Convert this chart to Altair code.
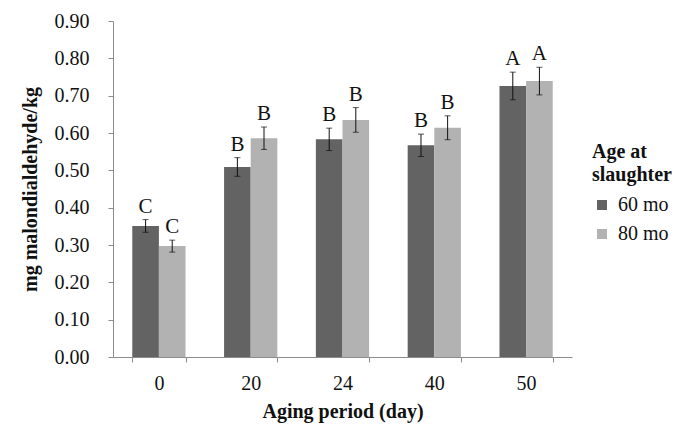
import altair as alt
import pandas as pd

days = ["0", "20", "24", "40", "50"]
ages = ["60 mo", "80 mo"]
mean_60 = [0.351, 0.509, 0.583, 0.567, 0.726]
mean_80 = [0.297, 0.586, 0.635, 0.614, 0.739]
err_60 = [0.017, 0.025, 0.030, 0.030, 0.037]
err_80 = [0.016, 0.030, 0.033, 0.032, 0.037]
letters_60 = ["C", "B", "B", "B", "A"]
letters_80 = ["C", "B", "B", "B", "A"]
yticks = [0.0, 0.1, 0.2, 0.3, 0.4, 0.5, 0.6, 0.7, 0.8, 0.9]

rows = []
for i, d in enumerate(days):
    for age, m, e, l in [("60 mo", mean_60[i], err_60[i], letters_60[i]),
                         ("80 mo", mean_80[i], err_80[i], letters_80[i])]:
        rows.append({"day": d, "age": age, "value": m, "lo": m - e, "hi": m + e, "letter": l})
df = pd.DataFrame(rows)

FONT = "Liberation Serif"
TXT = "#111111"
AX = "#8c8c8c"

x = alt.X("day:N", sort=days, title="Aging period (day)",
          scale=alt.Scale(paddingInner=0.42, paddingOuter=0.21),
          axis=alt.Axis(labelAngle=0, tickBand="extent", labelPadding=11, titlePadding=8))
xo = alt.XOffset("age:N", sort=ages, scale=alt.Scale(paddingInner=0, paddingOuter=0))
yscale = alt.Scale(domain=[0, 0.9], nice=False)
yaxis = alt.Axis(values=yticks, tickCount=10, format=".2f", grid=False,
                 labelPadding=19, titlePadding=14, labelOverlap=False)


def ych(field):
    return alt.Y(field, scale=yscale, title="mg malondialdehyde/kg", axis=yaxis)


bars = alt.Chart(df).mark_bar().encode(
    x=x, xOffset=xo,
    y=ych("value:Q"),
    color=alt.Color("age:N", sort=ages,
                    scale=alt.Scale(domain=ages, range=["#636363", "#b2b2b2"]),
                    legend=alt.Legend(title=["Age at", "slaughter"], orient="none",
                                      legendX=479, legendY=121, symbolType="square",
                                      symbolSize=100, symbolStrokeWidth=0,
                                      rowPadding=9, titlePadding=10, labelOffset=6)),
)

rules = alt.Chart(df).mark_rule(color=TXT, strokeWidth=1).encode(
    x=x, xOffset=xo, y=ych("lo:Q"), y2="hi:Q")

caps_hi = alt.Chart(df).mark_tick(color=TXT, thickness=1, size=6).encode(
    x=x, xOffset=xo, y=ych("hi:Q"))
caps_lo = alt.Chart(df).mark_tick(color=TXT, thickness=1, size=6).encode(
    x=x, xOffset=xo, y=ych("lo:Q"))

labels = alt.Chart(df).mark_text(font=FONT, fontSize=21, baseline="bottom", dy=-3, color=TXT).encode(
    x=x, xOffset=xo, y=ych("hi:Q"), text="letter:N")

chart = alt.layer(bars, rules, caps_hi, caps_lo, labels).properties(
    width=459, height=336,
    autosize=alt.AutoSizeParams(type="none"),
    padding={"left": 105, "top": 13, "right": 113, "bottom": 70},
).configure_view(stroke=None).configure_axis(
    labelFont=FONT, labelFontSize=20, labelColor=TXT,
    titleFont=FONT, titleFontSize=20, titleFontWeight="bold", titleColor=TXT,
    domainColor=AX, tickColor=AX, tickSize=5, labelOverlap=False,
).configure_legend(
    titleFont=FONT, titleFontSize=20, titleFontWeight="bold", titleColor=TXT,
    titleLineHeight=23, labelFont=FONT, labelFontSize=20, labelColor=TXT,
)

chart.save("out.html", embed_options={"renderer": "svg", "actions": False})
